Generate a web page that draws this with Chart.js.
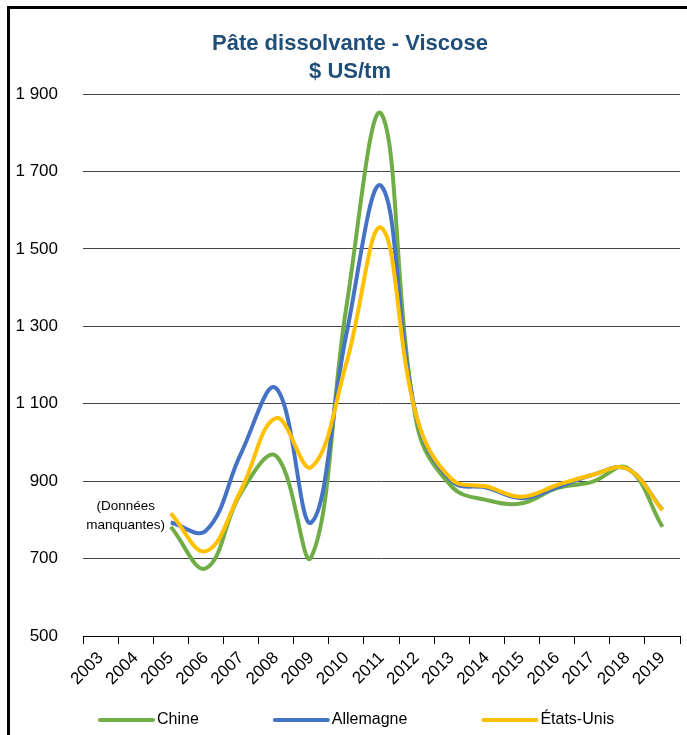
<!DOCTYPE html>
<html>
<head>
<meta charset="utf-8">
<script src="https://cdn.jsdelivr.net/npm/chart.js@4"></script>
<style>
  html, body { margin: 0; padding: 0; background: #fff; overflow: hidden; }
  #frame { position: absolute; left: 7px; top: 6px; width: 700px; height: 760px; border: 3px solid #000; }
  #wrap { position: absolute; left: 0; top: 0; width: 687px; height: 735px; }
</style>
</head>
<body>
<div id="frame"></div>
<div id="wrap"><canvas id="viscose-chart" width="687" height="735"></canvas></div>
<script>
// Pâte dissolvante - Viscose, $ US/tm
const years = ["2003", "2004", "2005", "2006", "2007", "2008", "2009", "2010", "2011",
  "2012", "2013", "2014", "2015", "2016", "2017", "2018", "2019"];
const chine = [null, null, 782, 675, 870, 965, 704, 1350, 1848, 1050, 886, 851, 843, 882, 898, 934, 782];
const allemagne = [null, null, 793, 772, 972, 1140, 793, 1280, 1662, 1065, 900, 883, 856, 884, 916, 932, 826];
const etatsUnis = [null, null, 817, 719, 877, 1063, 936, 1205, 1554, 1066, 905, 886, 860, 890, 916, 932, 825];
const yTicks = [500, 700, 900, 1100, 1300, 1500, 1700, 1900];
const titleLines = ["Pâte dissolvante - Viscose", "$ US/tm"];

const FONT = "'Liberation Sans', Arial, sans-serif";

function fmt(v) {
  return String(v).replace(/\B(?=(\d{3})+$)/g, " ");
}

// title, note and legend drawn by hand (Excel style placement)
const extras = {
  id: "extras",
  afterDraw(chart) {
    const ctx = chart.ctx;
    const x = chart.scales.x, y = chart.scales.y;
    ctx.save();
    ctx.textBaseline = "middle";
    ctx.textAlign = "center";

    ctx.fillStyle = "#1F4E79";
    ctx.font = "bold 22px " + FONT;
    titleLines.forEach((t, i) => ctx.fillText(t, 350, 44 + i * 28));

    ctx.fillStyle = "#000";
    ctx.font = "13.5px " + FONT;
    const nx = x.getPixelForValue(1) - 10;
    ctx.fillText("(Données", nx, y.getPixelForValue(834));
    ctx.fillText("manquantes)", nx, y.getPixelForValue(787));

    // legend
    ctx.font = "16px " + FONT;
    ctx.textAlign = "left";
    let lx = 100;
    const ly = 720;
    chart.data.datasets.forEach(ds => {
      ctx.strokeStyle = ds.borderColor;
      ctx.lineWidth = 4;
      ctx.lineCap = "round";
      ctx.beginPath();
      ctx.moveTo(lx, ly);
      ctx.lineTo(lx + 53, ly);
      ctx.stroke();
      ctx.fillText(ds.label, lx + 57, ly);
      lx += 57 + ctx.measureText(ds.label).width + 76;
    });
    ctx.restore();
  }
};

const ctx = document.getElementById("viscose-chart").getContext("2d");
new Chart(ctx, {
  type: "line",
  data: {
    labels: years,
    datasets: [
      { label: "Chine", data: chine, borderColor: "#70AD47", backgroundColor: "#70AD47", order: 3 },
      { label: "Allemagne", data: allemagne, borderColor: "#4472C4", backgroundColor: "#4472C4", order: 2 },
      { label: "États-Unis", data: etatsUnis, borderColor: "#FFC000", backgroundColor: "#FFC000", order: 1 },
    ],
  },
  options: {
    responsive: false,
    animation: false,
    layout: { padding: { left: 0, right: 7, top: 94, bottom: 0 } },
    elements: {
      line: { borderWidth: 4, tension: 0.4, fill: false, capBezierPoints: false },
      point: { radius: 0 },
    },
    plugins: {
      legend: { display: false },
      tooltip: { enabled: false },
      title: { display: false },
    },
    scales: {
      x: {
        offset: true,
        grid: { display: true, drawOnChartArea: false, offset: true, color: "#000", tickLength: 8 },
        border: { color: "#000", width: 1 },
        ticks: {
          color: "#000",
          font: { family: FONT, size: 17 },
          minRotation: 45,
          maxRotation: 45,
          padding: 4,
          autoSkip: false,
        },
        afterFit(scale) { scale.height = 99; },
      },
      y: {
        min: 500,
        max: 1900,
        afterBuildTicks(scale) { scale.ticks = yTicks.map(v => ({ value: v })); },
        grid: { color: "#444", lineWidth: 1, drawTicks: false },
        border: { display: false },
        ticks: {
          color: "#000",
          font: { family: FONT, size: 17 },
          padding: 25,
          callback: v => fmt(v),
        },
        afterFit(scale) { scale.width = 83; },
      },
    },
  },
  plugins: [extras],
});
</script>
</body>
</html>
